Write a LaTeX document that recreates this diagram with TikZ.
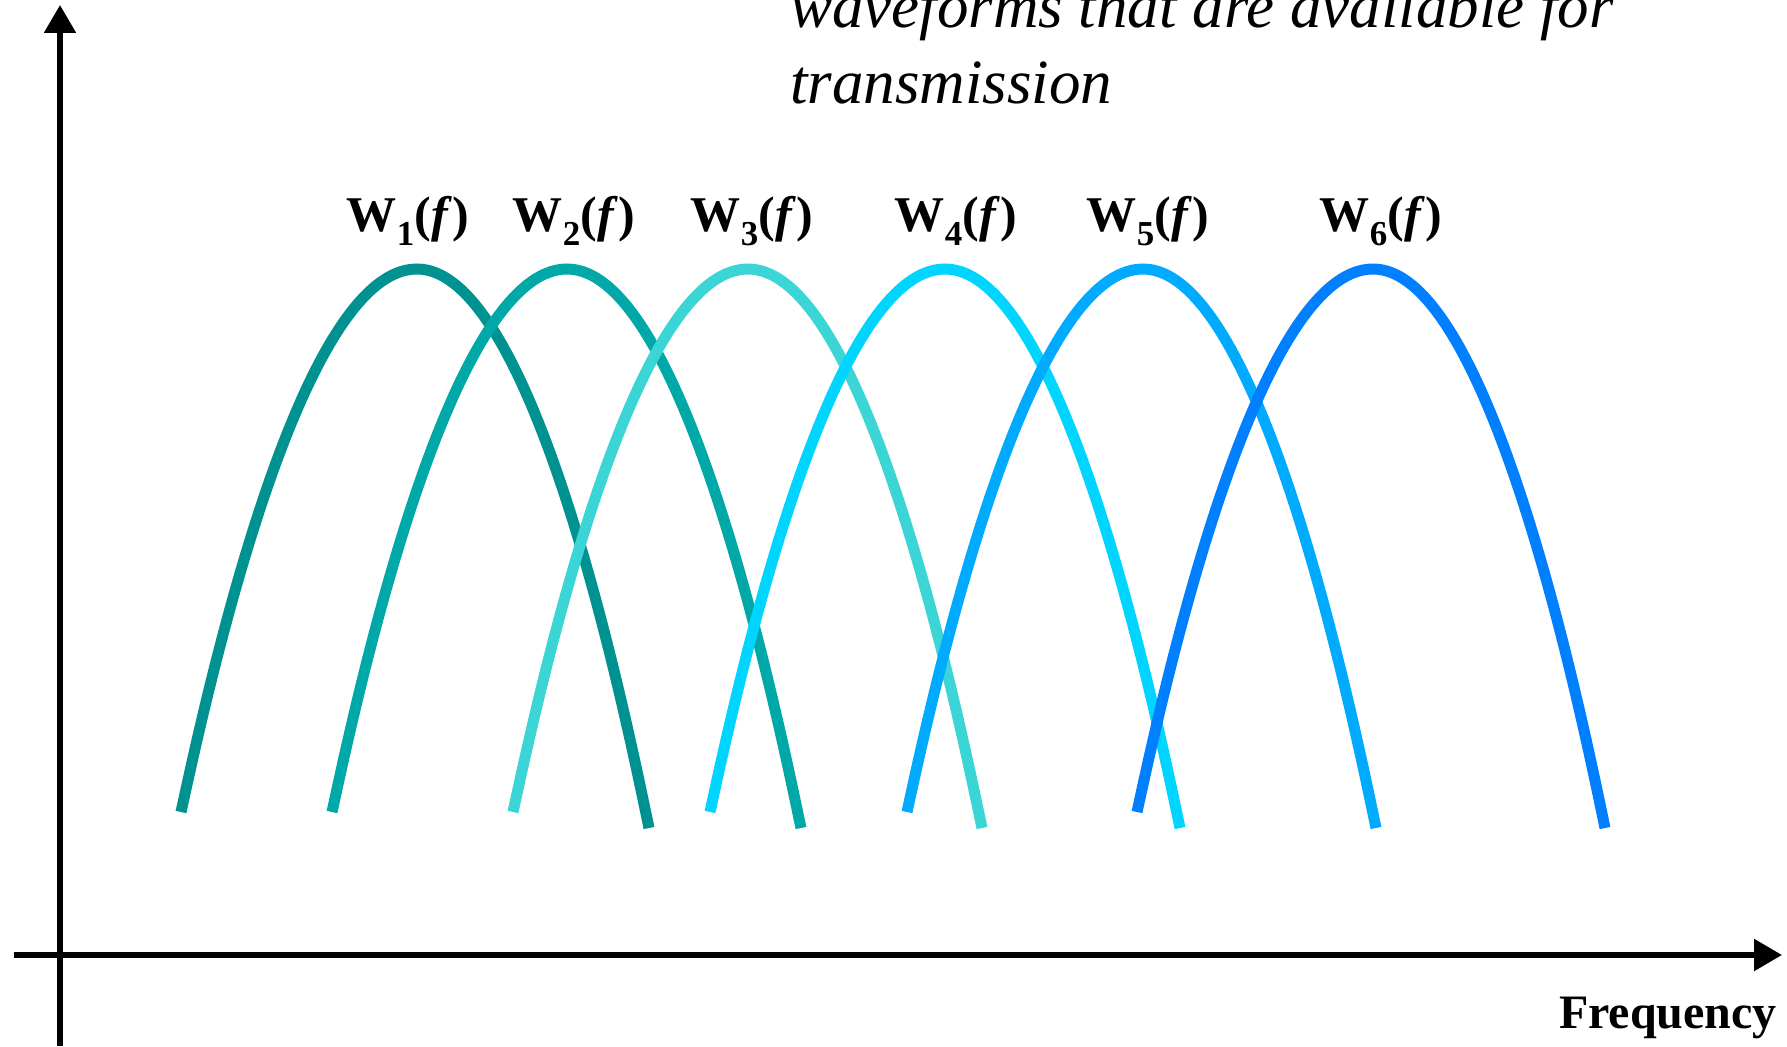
\documentclass[tikz,border=0pt]{standalone}
\usepackage{fontspec}
\setmainfont{Liberation Serif}
\usetikzlibrary{arrows.meta,positioning}
\definecolor{wavea}{RGB}{0,145,145}
\definecolor{waveb}{RGB}{0,168,168}
\definecolor{wavec}{RGB}{60,213,213}
\definecolor{waved}{RGB}{0,213,255}
\definecolor{wavee}{RGB}{0,170,255}
\definecolor{wavef}{RGB}{0,128,255}
\tikzset{
    axis/.style={line width=5.5pt,-{Triangle[width=31pt,length=28pt]}},
    wave/.style={line width=11pt},
    wlabel/.style={anchor=base,inner sep=0pt,font=\fontsize{50}{56}\selectfont\bfseries},
}
\begin{document}
\begin{tikzpicture}[x=1pt,y=-1pt]
    % Page size, as the reference
    \useasboundingbox (0,0) rectangle (1787,1046);
    % Axes
    \coordinate (ybot) at (60,1046);
    \coordinate (ytop) at (60,5);
    \coordinate (xleft) at (14,955);
    \coordinate (xright) at (1782,955);
    \draw[axis] (ybot) -- (ytop);
    \draw[axis] (xleft) -- (xright);
    % Caption text (top line runs off the page)
    \node[anchor=base west,inner sep=0pt,font=\fontsize{63}{75}\selectfont\itshape] (capa) at (790,28) {waveforms that are available for};
    \node[anchor=base west,inner sep=0pt,font=\fontsize{63}{75}\selectfont\itshape] (capb) at (790,103) {transmission};
    % Axis label
    \node[anchor=base east,inner sep=0pt,font=\fontsize{48}{54}\selectfont\bfseries] (freq) at (1777,1028) {Frequency};
    % The six waveforms: left end / peak / right end / label x / colour / index
    \foreach \l/\p/\r/\t/\col/\i in {181/417/649/408/wavea/1, 332/567/801/574/waveb/2,
                                     513/748/982/752/wavec/3, 710/945/1180/956/waved/4,
                                     907/1143/1376/1148/wavee/5, 1137/1373/1605/1381/wavef/6} {
        \draw[wave,\col] (\l,812) parabola bend (\p,269) (\r,828);
        \node[wlabel] (w\i) at (\t,231) {W\textsubscript{\i}(\textit{f})};
    }
\end{tikzpicture}
\end{document}
